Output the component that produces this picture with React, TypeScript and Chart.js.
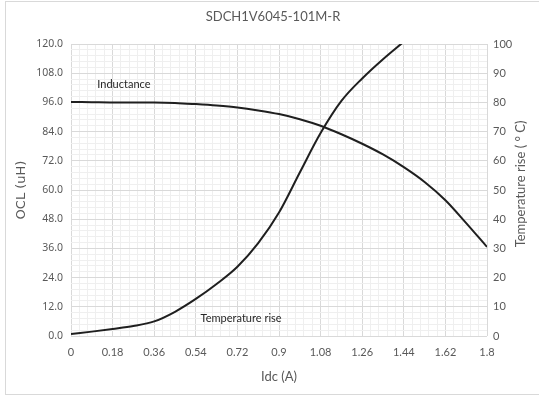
import React, { useEffect, useRef } from "react";
import { Chart, registerables } from "chart.js";

Chart.register(...registerables);

const chartTitle = "SDCH1V6045-101M-R";
const xTitle = "Idc (A)";
const leftTitle = "OCL (uH)";
const rightTitle = "Temperature rise ( \u00B0 C)";

const idc = [0, 0.09, 0.18, 0.27, 0.36, 0.45, 0.54, 0.63, 0.72, 0.81, 0.9, 0.99, 1.08, 1.17, 1.26, 1.35, 1.44, 1.53, 1.62, 1.71, 1.8];
const inductance = [96.2, 96.1, 96.0, 96.0, 96.0, 95.8, 95.3, 94.7, 93.9, 92.7, 91.2, 89.1, 86.4, 82.9, 79.0, 74.6, 69.4, 63.3, 55.8, 46.4, 36.6];
const tempRise = [0.7, 1.5, 2.4, 3.4, 5.0, 8.3, 12.7, 17.8, 23.7, 31.8, 42.3, 56.0, 69.5, 80.5, 88.2, 94.8, 100.8];

const labelTexts = ["Inductance", "Temperature rise"];
const labelIdc = [0.229, 0.736];
const labelOcl = [103.2, 7.4];

const MAJOR = "#d9d9d9";
const MINOR = "#efefef";
const TEXT = "#595959";

export default function App() {
  const ref = useRef<HTMLCanvasElement | null>(null);
  useEffect(() => {
    const canvas = ref.current;
    if (!canvas) return;
    const deco = {
      id: "deco",
      beforeDraw(chart: any) {
        const ctx = chart.ctx;
        ctx.save();
        ctx.fillStyle = "#ffffff";
        ctx.fillRect(0, 0, chart.width, chart.height);
        ctx.strokeStyle = "#d9d9d9";
        ctx.lineWidth = 1;
        ctx.strokeRect(5.5, 1.5, chart.width + 5, chart.height - 3);
        ctx.restore();
      },
      afterDraw(chart: any) {
        const ctx = chart.ctx;
        const xs = chart.scales.x;
        const ys = chart.scales.y;
        ctx.save();
        ctx.fillStyle = TEXT;
        ctx.font = "13px Lato";
        ctx.textAlign = "center";
        ctx.textBaseline = "middle";
        ctx.fillText(chartTitle, 273, 17);
        ctx.save();
        ctx.translate(521, 184);
        ctx.rotate(-Math.PI / 2);
        ctx.font = "13px Lato";
        ctx.fillText(rightTitle, 0, 0);
        ctx.restore();
        ctx.fillStyle = "#262626";
        ctx.font = "11px Lato";
        for (let i = 0; i < labelTexts.length; i++) {
          ctx.fillText(labelTexts[i], xs.getPixelForValue(labelIdc[i]), ys.getPixelForValue(labelOcl[i]));
        }
        ctx.restore();
      },
    };
    const gridColor = (c: any) => (c.index % 5 === 0 ? MAJOR : MINOR);
    const chart = new Chart(canvas, {
      type: "line",
      data: {
        datasets: [
          {
            label: "Inductance",
            data: idc.map((x, i) => ({ x, y: inductance[i] })),
            yAxisID: "y",
            borderColor: "#1f1f1f",
            borderWidth: 2,
            pointRadius: 0,
            cubicInterpolationMode: "monotone",
            fill: false,
          },
          {
            label: "Temperature rise",
            data: tempRise.map((y, i) => ({ x: idc[i], y })),
            yAxisID: "y2",
            borderColor: "#1f1f1f",
            borderWidth: 2,
            pointRadius: 0,
            cubicInterpolationMode: "monotone",
            fill: false,
          },
        ],
      },
      options: {
        animation: false,
        responsive: false,
        devicePixelRatio: 1,
        layout: { padding: { top: 44, left: 0, right: 0, bottom: 0 } },
        plugins: { legend: { display: false }, tooltip: { enabled: false }, title: { display: false } },
        scales: {
          x: {
            type: "linear",
            min: 0,
            max: 1.8,
            afterFit: (s: any) => { s.height = 60; },
            grid: { color: gridColor, drawTicks: false, lineWidth: 1 },
            border: { display: false },
            ticks: {
              stepSize: 0.036,
              autoSkip: false,
              maxRotation: 0,
              padding: 10,
              color: TEXT,
              font: { family: "Lato", size: 11 },
              callback: (v: any, i: number) => (i % 5 === 0 ? String(Number(Number(v).toFixed(2))) : ""),
            },
            title: { display: true, text: xTitle, color: TEXT, font: { family: "Lato", size: 13 }, padding: { top: 0, bottom: 11 } },
          },
          y: {
            type: "linear",
            position: "left",
            min: 0,
            max: 120,
            afterFit: (s: any) => { s.width = 71; },
            grid: { color: gridColor, drawTicks: false, lineWidth: 1 },
            border: { display: false },
            ticks: {
              stepSize: 2.4,
              autoSkip: false,
              padding: 8,
              color: TEXT,
              font: { family: "Noto Sans", size: 10.5 },
              callback: (v: any, i: number) => (i % 5 === 0 ? Number(v).toFixed(1) : ""),
            },
            title: { display: true, text: leftTitle, color: TEXT, font: { family: "DejaVu Sans", size: 13 }, padding: { top: 14, bottom: 0 } },
          },
          y2: {
            type: "linear",
            position: "right",
            min: 0,
            max: 100,
            afterFit: (s: any) => { s.width = 52; },
            grid: { display: false, drawTicks: false },
            border: { display: false },
            ticks: {
              stepSize: 10,
              padding: 6,
              color: TEXT,
              font: { family: "Lato", size: 11 },
            },
          },
        },
      },
      plugins: [deco],
    } as any);
    return () => chart.destroy();
  }, []);
  return (
    <div style={{ position: "fixed", left: 0, top: 0, width: 539, height: 396 }}>
      <canvas ref={ref} width={539} height={396} style={{ width: 539, height: 396, display: "block" }} />
    </div>
  );
}
